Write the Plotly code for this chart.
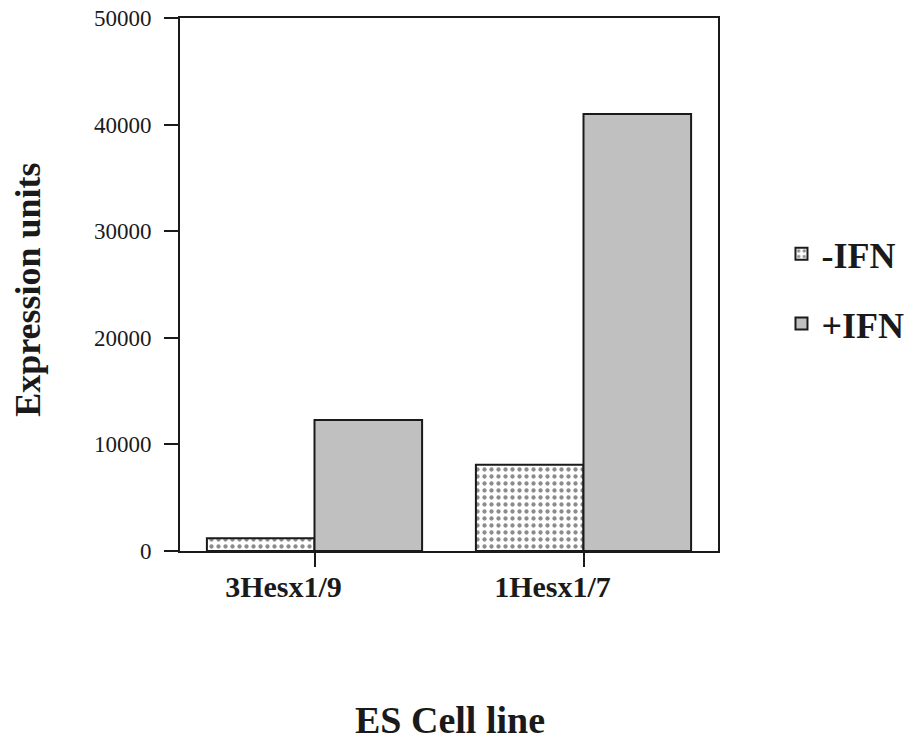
import plotly.graph_objects as go

# Expression data per ES cell line, with and without interferon
cell_lines = ["3Hesx1/9", "1Hesx1/7"]
minus_ifn = [1200, 8100]
plus_ifn = [12300, 41000]
y_ticks = [0, 10000, 20000, 30000, 40000, 50000]

serif = "Liberation Serif, Times New Roman, serif"
ink = "#1a1a1a"

fig = go.Figure()
fig.add_trace(go.Bar(
    x=cell_lines, y=minus_ifn, name="-IFN",
    marker=dict(color="white", line=dict(color=ink, width=2),
                pattern=dict(shape=".", fgcolor=ink, bgcolor="white",
                             size=7, solidity=0.3)),
    legendgroup="a",
))
fig.add_trace(go.Bar(
    x=cell_lines, y=plus_ifn, name="+IFN",
    marker=dict(color="#c0c0c0", line=dict(color=ink, width=2)),
    legendgroup="b",
))

fig.update_layout(
    width=912, height=746,
    margin=dict(l=180, r=194, t=18, b=195, autoexpand=False),
    paper_bgcolor="white", plot_bgcolor="white",
    barmode="group", bargap=0.2, bargroupgap=0,
    font=dict(family=serif, color=ink),
    showlegend=True,
    legend=dict(x=1.118, y=0.492, xanchor="left", yanchor="middle",
                font=dict(family=serif, size=36, color=ink, weight="bold"),
                traceorder="grouped", tracegroupgap=20,
                bgcolor="rgba(0,0,0,0)"),
)
fig.update_xaxes(
    range=[-0.5, 1.5], showline=True, linecolor=ink, linewidth=2,
    mirror=True, ticks="outside", ticklen=14, tickwidth=2, tickcolor=ink,
    ticklabelshift=-31, ticklabelstandoff=-6, automargin=False,
    tickfont=dict(family=serif, size=30, color=ink, weight="bold"),
    showgrid=False,
)
fig.update_yaxes(
    range=[0, 50000], tickvals=y_ticks, ticktext=[str(v) for v in y_ticks],
    showline=True, linecolor=ink, linewidth=2, mirror=True,
    ticks="outside", ticklen=14, tickwidth=2, tickcolor=ink,
    ticklabelstandoff=8, automargin=False,
    tickfont=dict(family=serif, size=23, color=ink),
    showgrid=False, zeroline=False,
)

fig.add_annotation(text="<b>Expression units</b>", xref="paper", yref="paper",
                   x=-0.2825, y=0.49, xanchor="center", yanchor="middle",
                   textangle=-90, showarrow=False,
                   font=dict(family=serif, size=36, color=ink))
fig.add_annotation(text="<b>ES Cell line</b>", xref="paper", yref="paper",
                   x=0.5026, y=-0.318, xanchor="center", yanchor="middle",
                   showarrow=False,
                   font=dict(family=serif, size=38, color=ink))

fig.write_html("out.html")
